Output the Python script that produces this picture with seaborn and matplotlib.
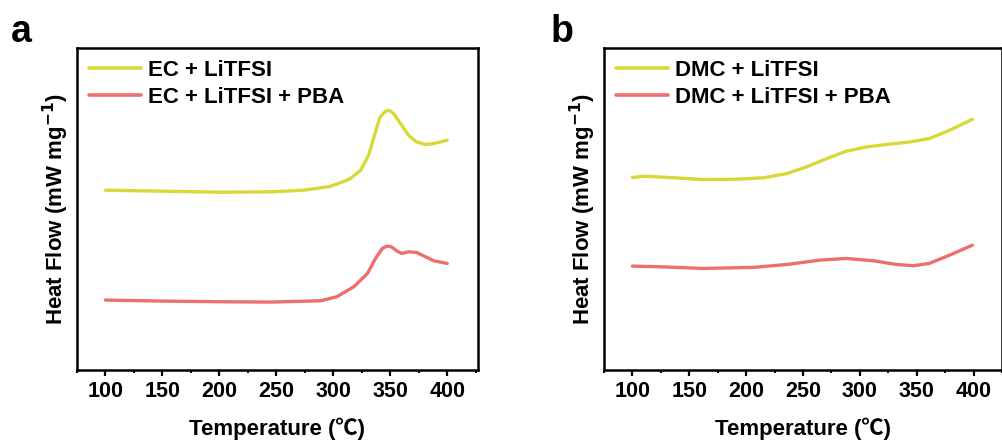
import numpy as np
import pandas as pd
import matplotlib
matplotlib.use("Agg")
import matplotlib.pyplot as plt
from matplotlib.ticker import MultipleLocator
import seaborn as sns

# ---- data (heat flow in arbitrary units) ----
ec_t = [100, 150, 200, 245, 274, 297, 312, 315, 324, 331, 334, 337, 341, 346, 349, 353, 359, 366, 373, 381, 388, 400]
ec_y = [5.40, 5.37, 5.34, 5.35, 5.40, 5.51, 5.70, 5.75, 6.00, 6.45, 6.80, 7.15, 7.60, 7.77, 7.80, 7.70, 7.40, 7.05, 6.85, 6.77, 6.80, 6.90]

ecp_t = [100, 150, 200, 245, 289, 303, 318, 330, 337, 343, 347, 351, 356, 360, 366, 373, 381, 388, 400]
ecp_y = [2.10, 2.07, 2.05, 2.04, 2.08, 2.20, 2.50, 2.90, 3.35, 3.65, 3.72, 3.70, 3.57, 3.50, 3.55, 3.53, 3.40, 3.28, 3.20]

dmc_t = [100, 110, 133, 162, 192, 215, 236, 253, 271, 288, 306, 323, 344, 361, 379, 399]
dmc_y = [5.78, 5.82, 5.78, 5.72, 5.73, 5.77, 5.90, 6.10, 6.35, 6.57, 6.70, 6.77, 6.85, 6.95, 7.20, 7.53]

dmcp_t = [100, 125, 162, 206, 236, 265, 288, 312, 332, 347, 361, 379, 399]
dmcp_y = [3.12, 3.10, 3.05, 3.08, 3.17, 3.30, 3.35, 3.28, 3.17, 3.13, 3.20, 3.45, 3.75]

labels_a = ["EC + LiTFSI", "EC + LiTFSI + PBA"]
labels_b = ["DMC + LiTFSI", "DMC + LiTFSI + PBA"]
colors = ["#d8d838", "#ee6e6e"]

sns.set_style("ticks")
plt.rcParams['font.family'] = ['Liberation Sans', 'Noto Sans CJK SC', 'DejaVu Sans']
plt.rcParams['font.weight'] = 'bold'
plt.rcParams['axes.labelweight'] = 'bold'
plt.rcParams['text.color'] = 'black'
plt.rcParams['axes.labelcolor'] = 'black'
plt.rcParams['xtick.color'] = 'black'
plt.rcParams['ytick.color'] = 'black'
plt.rcParams['axes.edgecolor'] = 'black'

fig = plt.figure(figsize=(10.03, 4.41), dpi=100)
ax_a = fig.add_axes([77/1003, 71/441, 401/1003, 322/441])
ax_b = fig.add_axes([604/1003, 71/441, 398/1003, 322/441])

def make_df(t1, y1, l1, t2, y2, l2):
    return pd.concat([
        pd.DataFrame({"T": t1, "H": y1, "s": l1}),
        pd.DataFrame({"T": t2, "H": y2, "s": l2}),
    ], ignore_index=True)

df_a = make_df(ec_t, ec_y, labels_a[0], ecp_t, ecp_y, labels_a[1])
df_b = make_df(dmc_t, dmc_y, labels_b[0], dmcp_t, dmcp_y, labels_b[1])

for ax, df, labs, xr in [(ax_a, df_a, labels_a, (75, 427)), (ax_b, df_b, labels_b, (75, 425))]:
    sns.lineplot(data=df, x="T", y="H", hue="s", hue_order=labs,
                 palette=colors, linewidth=2.4, ax=ax, sort=False)
    for ln in ax.get_lines():
        ln.set_solid_joinstyle('round')
        ln.set_solid_capstyle('round')
    ax.set_xlim(*xr)
    ax.set_ylim(0, 9.67)
    ax.set_yticks([])
    ax.xaxis.set_major_locator(MultipleLocator(50))
    ax.xaxis.set_minor_locator(MultipleLocator(25))
    ax.tick_params(axis='x', which='major', direction='out', length=4, width=1.6,
                   labelsize=15.5, pad=4, colors='black')
    ax.tick_params(axis='x', which='minor', direction='out', length=2.5, width=1.4,
                   colors='black')
    for lab in ax.get_xticklabels():
        lab.set_fontweight('bold')
    for sp in ax.spines.values():
        sp.set_linewidth(1.8)
        sp.set_color('black')
        sp.set_visible(True)
    ax.set_xlabel("Temperature (℃)", fontsize=16, fontweight='bold', labelpad=11, color='black')
    ax.set_ylabel("Heat Flow (mW mg$^{\\mathbf{-1}}$)", fontsize=16, fontweight='bold',
                  labelpad=4, color='black')
    leg = ax.legend(loc='upper left', frameon=False, fontsize=16, handlelength=2.35,
                    handletextpad=0.3, borderaxespad=0.15, borderpad=0.4,
                    labelspacing=0.25, bbox_to_anchor=(0.0, 1.0))
    for line in leg.get_lines():
        line.set_linewidth(2.6)
    for txt in leg.get_texts():
        txt.set_fontweight('bold')
        txt.set_color('black')

fig.text(11/1003, 1 - 42/441, "a", fontsize=27, fontweight='bold', ha='left', va='baseline', color='black')
fig.text(551/1003, 1 - 42/441, "b", fontsize=27, fontweight='bold', ha='left', va='baseline', color='black')

fig.savefig("out.png", dpi=100)
